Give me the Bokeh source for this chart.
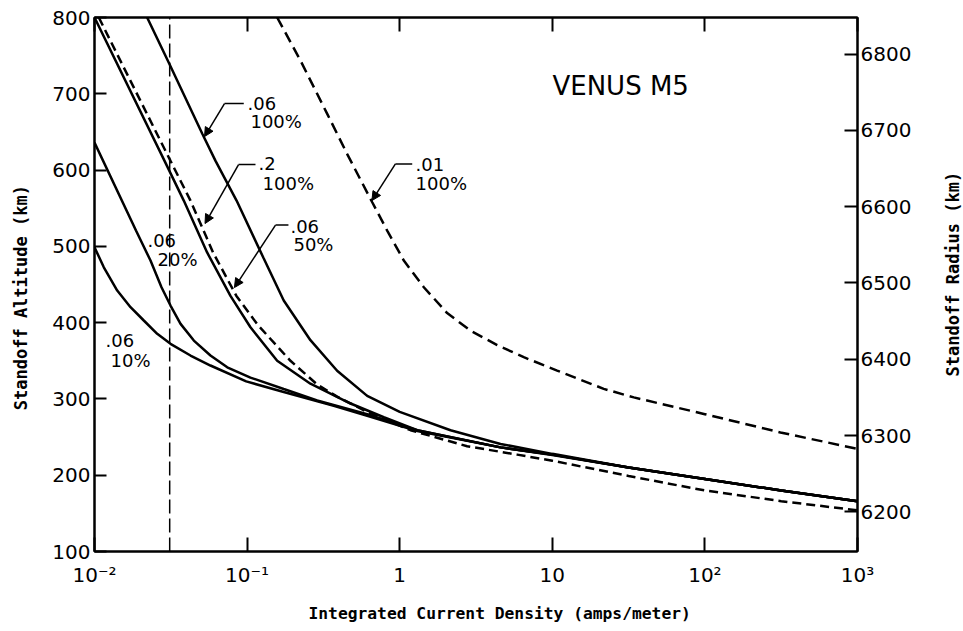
import math
from bokeh.plotting import figure
from bokeh.layouts import row
from bokeh.models import (Range1d, LinearAxis, LogAxis, FixedTicker, Label, Arrow, NormalHead, Title)
from bokeh.embed import file_html
from bokeh.resources import INLINE
from bokeh.core.properties import value

# ---------------- data ----------------
x_ticks = [0.01, 0.1, 1, 10, 100, 1000]
x_tick_labels = ["10⁻²", "10⁻¹", "1", "10", "10²", "10³"]
alt_ticks = [100, 200, 300, 400, 500, 600, 700, 800]
radius_ticks = [6200, 6300, 6400, 6500, 6600, 6700, 6800]
radius_offset = 6048

# .01 100%  (dashed)
c01_100_x = [0.1574, 0.2239, 0.335, 0.4529, 0.6607, 0.8279, 1.064, 1.439, 2.046, 2.911,
             4.355, 6.501, 10.76, 21.73, 34.2, 100, 312.6, 1000]
c01_100_y = [800, 743.5, 673.7, 621, 557.8, 520.7, 481.4, 446.4, 412.5, 389.5,
             370.5, 354.7, 337.2, 313.2, 302, 280, 256, 234.6]

# .06 100%  (solid)
c06_100_x = [0.02213, 0.03097, 0.05105, 0.06209, 0.08531, 0.1279, 0.1738, 0.26, 0.389, 0.6124,
             1.0, 2.153, 4.581, 10, 31.62, 100, 316.2, 1000]
c06_100_y = [800, 739, 647, 612, 560, 485, 429, 377, 337, 304,
             283, 259, 241, 228, 210, 195, 180, 166]

# .06 50%  (solid)
c06_50_x = [0.01, 0.02877, 0.03846, 0.0547, 0.0778, 0.1052, 0.1574, 0.26, 0.4764, 0.787,
            1.303, 4.581, 10, 31.62, 100, 316.2, 1000]
c06_50_y = [800, 612, 560, 492, 435, 394, 350, 320, 294, 276,
            259, 236.5, 227, 210, 195, 180, 166]

# .2 100%  (dashed)
c2_100_x = [0.01067, 0.03148, 0.04256, 0.05984, 0.08511, 0.1175, 0.1923, 0.2877, 0.389, 0.6124,
            1.178, 2.767, 5.888, 10, 31.62, 100, 316.2, 1000]
c2_100_y = [800, 612, 560, 492, 435, 397, 350, 319, 303, 283,
            259, 238, 227, 219, 199, 180, 166, 154]

# .06 20%  (solid)
c06_20_x = [0.01, 0.0187, 0.02328, 0.02748, 0.03148, 0.03664, 0.04477, 0.05754, 0.07413, 0.1052,
            0.1738, 0.2877, 0.6124, 1.303, 4.581, 10, 31.62, 100, 316.2, 1000]
c06_20_y = [636, 520.7, 481.4, 446.4, 422.4, 398.4, 376.5, 356.9, 341.5, 328,
            313, 298, 280, 259, 236.5, 227, 210, 195, 180, 166]

# .06 10%  (solid)
c06_10_x = [0.01, 0.01151, 0.01409, 0.01722, 0.02104, 0.02576, 0.03148, 0.04256, 0.05754, 0.09863,
            0.1738, 0.3698, 0.6124, 1.303, 4.581, 10, 31.62, 100, 316.2, 1000]
c06_10_y = [498.8, 472.6, 442.1, 420.2, 402.8, 385.3, 372.2, 356.9, 343.8, 323,
            309, 291, 278, 258, 236.5, 226.5, 210, 195, 180, 166]

# vertical reference line
vline_x = [0.0311, 0.0311]
vline_y = [100, 800]

# curve labels
lab_text = [".06", "100%", ".2", "100%", ".06", "50%", ".01", "100%", ".06", "20%", ".06", "10%"]
lab_x = [0.1007, 0.1052, 0.1188, 0.1262, 0.1923, 0.2013, 1.27, 1.27, 0.02223, 0.02588, 0.0118, 0.01274]
lab_y = [687.2, 663.6, 608.5, 582.3, 526.0, 502.4, 607.2, 582.3, 507.6, 482.7, 376.6, 350.4]

# leader lines: horizontal piece then arrow to curve
lead_x0 = [0.0951, 0.1135, 0.1866, 1.208]
lead_x1 = [0.0711, 0.0879, 0.1535, 0.9376]
lead_y = [687.2, 607.2, 527.9, 608.1]
tip_x = [0.0526, 0.053, 0.0826, 0.6577]
tip_y = [643.9, 529.9, 446.0, 560.0]

# ---------------- main figure ----------------
p = figure(frame_width=763, frame_height=534, x_axis_type="log",
           x_range=Range1d(0.01, 1000), y_range=Range1d(100, 800),
           output_backend="svg", toolbar_location=None,
           min_border_left=64, min_border_right=83, min_border_top=17, min_border_bottom=79,
           background_fill_color="white", border_fill_color="white")
p.xgrid.grid_line_color = None
p.ygrid.grid_line_color = None
p.outline_line_color = "black"
p.outline_line_width = 2

def style_axis(ax, tick_in, standoff, fsize="20px"):
    ax.major_tick_in = tick_in
    ax.major_tick_out = 0
    ax.minor_tick_line_color = None
    ax.major_tick_line_width = 2
    ax.major_tick_line_color = "black"
    ax.axis_line_width = 2
    ax.axis_line_color = "black"
    ax.major_label_text_font = "DejaVu Sans"
    ax.major_label_text_font_size = fsize
    ax.major_label_text_color = "black"
    ax.major_label_standoff = standoff

xa = p.xaxis[0]
xa.ticker = FixedTicker(ticks=x_ticks)
xa.major_label_overrides = dict(zip(x_ticks, x_tick_labels))
style_axis(xa, 14, 11)

ya = p.yaxis[0]
ya.ticker = FixedTicker(ticks=alt_ticks)
style_axis(ya, 12, 4)

top = LogAxis(ticker=FixedTicker(ticks=x_ticks))
style_axis(top, 14, 0, "2px")
top.major_label_text_color = None
p.add_layout(top, "above")

p.extra_y_ranges = {"radius": Range1d(100 + radius_offset, 800 + radius_offset)}
ra = LinearAxis(y_range_name="radius", ticker=FixedTicker(ticks=radius_ticks))
style_axis(ra, 13, 3)
p.add_layout(ra, "right")

# x axis title
p.add_layout(Title(text="Integrated Current Density (amps/meter)", align="left", offset=214,
                   text_font="DejaVu Sans Mono", text_font_style="bold", text_font_size="16.3px",
                   text_color="black", standoff=24), "below")

# curves
p.line(c06_10_x, c06_10_y, line_color="black", line_width=2.5)
p.line(c06_20_x, c06_20_y, line_color="black", line_width=2.5)
p.line(c06_50_x, c06_50_y, line_color="black", line_width=2.5)
p.line(c06_100_x, c06_100_y, line_color="black", line_width=2.5)
p.line(c2_100_x, c2_100_y, line_color="black", line_width=2.5, line_dash="9 5")
p.line(c01_100_x, c01_100_y, line_color="black", line_width=2.5, line_dash="11 6")
p.line(vline_x, vline_y, line_color="black", line_width=1.5, line_dash="14 5")

# curve labels
p.text(x=lab_x, y=lab_y, text=lab_text, text_font=value("DejaVu Sans"),
       text_font_size="18px", text_color="black", text_align="left", text_baseline="alphabetic")

p.segment(x0=lead_x0, y0=lead_y, x1=lead_x1, y1=lead_y, line_color="black", line_width=1.5)
for xs, ys, xe, ye in zip(lead_x1, lead_y, tip_x, tip_y):
    p.add_layout(Arrow(x_start=xs, y_start=ys, x_end=xe, y_end=ye, line_width=1.5,
                       line_color="black",
                       end=NormalHead(size=9, fill_color="black", line_color="black", line_width=1)))

p.add_layout(Label(x=10.02, y=710.7, text="VENUS M5", text_font="DejaVu Sans",
                   text_font_size="26px", text_color="black", text_baseline="alphabetic"))

# ---------------- narrow strips holding the vertical titles (read bottom to top) ----------------
def title_strip(w, h, tx, ty, txt):
    s = figure(width=w, height=h, x_range=Range1d(0, w), y_range=Range1d(0, h),
               output_backend="svg", toolbar_location=None, x_axis_location=None, y_axis_location=None,
               min_border=0, min_border_left=0, min_border_right=0, min_border_top=0, min_border_bottom=0,
               background_fill_color="white", border_fill_color="white")
    s.outline_line_color = None
    s.xgrid.grid_line_color = None
    s.ygrid.grid_line_color = None
    s.text(x=[tx], y=[ty], text=[txt], angle=math.pi / 2,
           text_font=value("DejaVu Sans Mono"), text_font_style="bold", text_font_size="17px",
           text_color="black", text_align="center", text_baseline="middle")
    return s

strip_h = 630
left_title_pos = (20, 297)
right_title_pos = (12, 325)
p_left = title_strip(30, strip_h, left_title_pos[0], left_title_pos[1], "Standoff Altitude (km)")
p_right = title_strip(22, strip_h, right_title_pos[0], right_title_pos[1], "Standoff Radius (km)")

layout = row(p_left, p, p_right, spacing=0)
open("out.html", "w").write(file_html(layout, INLINE))
